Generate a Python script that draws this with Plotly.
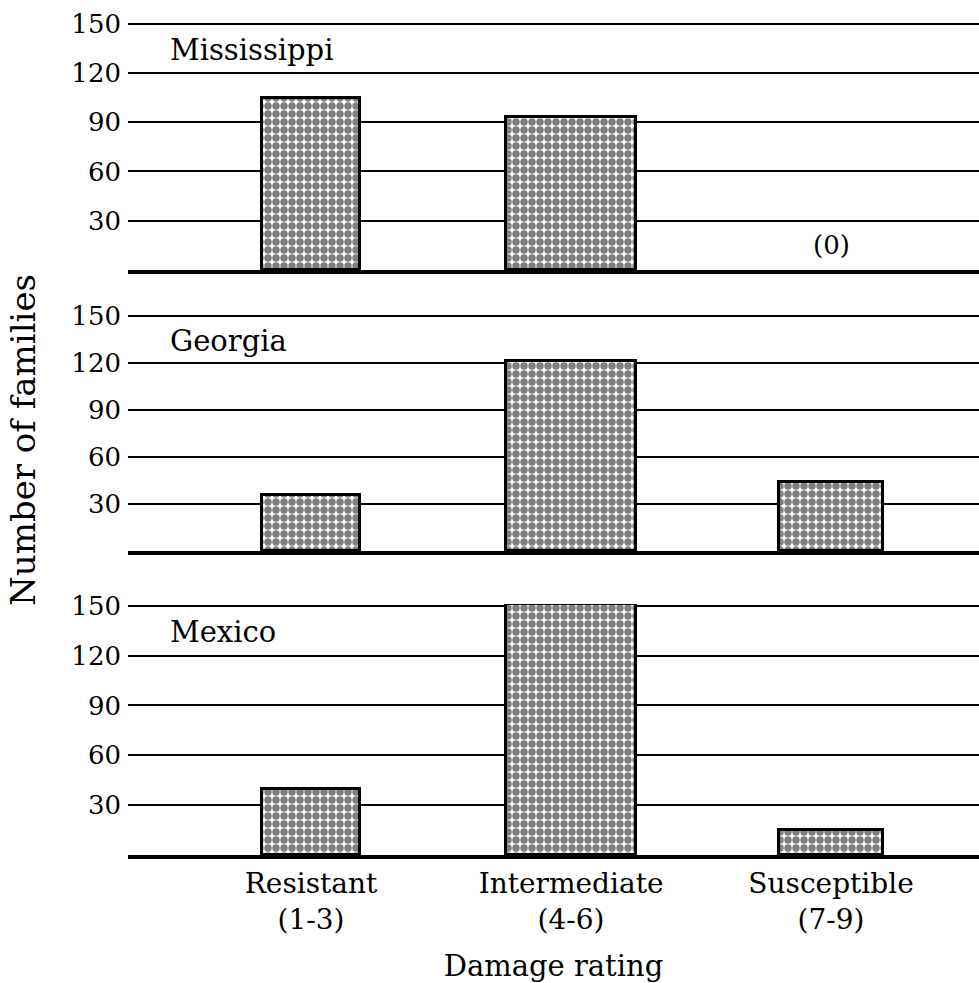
import plotly.graph_objects as go
from plotly.subplots import make_subplots

categories = ["Resistant<br>(1-3)", "Intermediate<br>(4-6)", "Susceptible<br>(7-9)"]
regions = ["Mississippi", "Georgia", "Mexico"]
mississippi = [105, 93, 0]
georgia = [36, 121, 44]
mexico = [40, 151, 15]
series = [mississippi, georgia, mexico]
y_ticks = [30, 60, 90, 120, 150]

FONT = "DejaVu Serif"
bar_widths = [0.38, 0.5, 0.4]

fig = make_subplots(rows=3, cols=1, shared_xaxes=False, vertical_spacing=0.05)

for i, vals in enumerate(series):
    fig.add_trace(
        go.Bar(
            x=categories, y=vals, width=bar_widths,
            marker=dict(
                color="white",
                line=dict(color="black", width=[3 if v > 0 else 0 for v in vals]),
                pattern=dict(shape=".", fgcolor="black", bgcolor="white", size=8, solidity=0.68),
            ),
            showlegend=False,
        ),
        row=i + 1, col=1,
    )

H = 983
top_px, bot_px = 22, 855
ph = bot_px - top_px
panels_px = [(22, 270), (314, 551), (604, 855)]
for i, (t, b) in enumerate(panels_px):
    dom = [(bot_px - b) / ph, (bot_px - t) / ph]
    ax = "yaxis" if i == 0 else f"yaxis{i+1}"
    fig.layout[ax].update(
        domain=dom, range=[0, 151], tickvals=y_ticks, ticktext=[str(v) for v in y_ticks],
        showgrid=True, gridcolor="black", gridwidth=1.5, zeroline=False, showline=False,
        ticks="", ticklabelstandoff=6, tickfont=dict(family=FONT, size=26, color="black"),
    )
    xa = "xaxis" if i == 0 else f"xaxis{i+1}"
    fig.layout[xa].update(
        range=[-0.704, 2.569], showgrid=False, zeroline=False, showline=True,
        linecolor="black", linewidth=4, ticks="",
        showticklabels=(i == 2),
        tickfont=dict(family=FONT, size=28, color="black"),
    )
    yref = "y" if i == 0 else f"y{i+1}"
    xref = "x" if i == 0 else f"x{i+1}"
    fig.add_annotation(
        x=-0.55, y=134, xref=xref, yref=yref, text=regions[i], showarrow=False,
        xanchor="left", yanchor="middle", font=dict(family=FONT, size=29, color="black"),
    )

fig.add_annotation(
    x=2, y=15, xref="x", yref="y", text="(0)", showarrow=False,
    xanchor="center", yanchor="middle", font=dict(family=FONT, size=26, color="black"),
)

fig.layout.xaxis3.update(
    title=dict(text="Damage rating", font=dict(family=FONT, size=29, color="black"), standoff=24),
)

fig.add_annotation(
    x=(23 - 128) / 851, y=(bot_px - 440) / ph, xref="paper", yref="paper",
    text="Number of families", textangle=-90, showarrow=False,
    xanchor="center", yanchor="middle", font=dict(family=FONT, size=34, color="black"),
)

fig.update_layout(
    width=979, height=983,
    margin=dict(l=128, r=0, t=top_px, b=H - bot_px),
    plot_bgcolor="white", paper_bgcolor="white",
    bargap=0,
)

fig.write_html(
    "out.html",
    config={"displayModeBar": False},
    post_script="document.body.style.margin='0px';document.body.style.overflow='hidden';",
)
